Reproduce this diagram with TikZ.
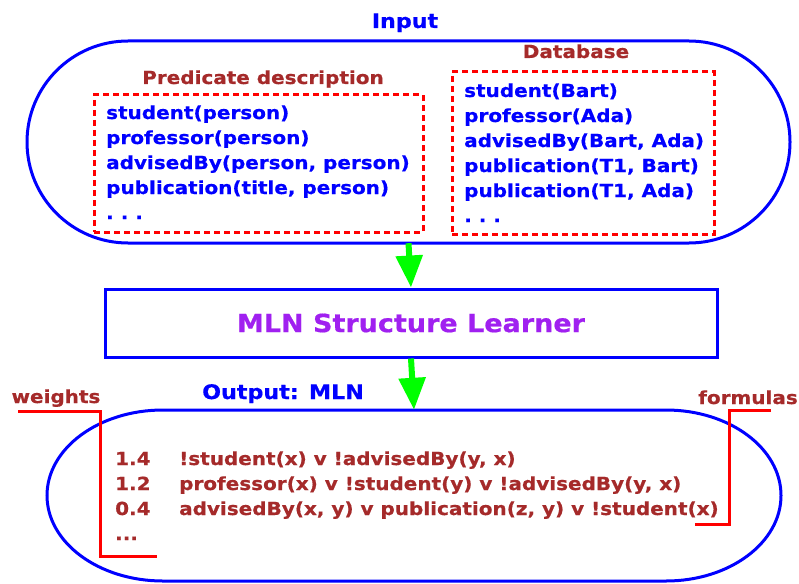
\documentclass[tikz,border=0pt]{standalone}
\usepackage{fontspec}
\newfontfamily\bodyfont{DejaVu Sans}[FakeStretch=1.11,FakeBold=0.6]
\newfontfamily\titlefont{DejaVu Sans}[FakeStretch=1.08,FakeBold=0.6]
\usetikzlibrary{arrows.meta}
\definecolor{mlnblue}{HTML}{0000FF}
\definecolor{mlnbrown}{HTML}{A52A2A}
\definecolor{mlnpurple}{HTML}{A020F0}
\definecolor{mlngreen}{HTML}{00FF00}
\definecolor{mlnred}{HTML}{FF0000}
\newcommand{\spdots}{.\kern7pt.\kern7pt.}
\begin{document}
\begin{tikzpicture}[x=1pt,y=-1pt,
  txt/.style={inner sep=0pt, font=\bodyfont\bfseries\fontsize{18}{25}\selectfont},
  item/.style={txt, text=mlnblue, anchor=base west},
  lbl/.style={txt, text=mlnbrown, anchor=base},
  ttl/.style={inner sep=0pt, font=\bodyfont\bfseries\fontsize{20}{24}\selectfont, text=mlnblue, anchor=base},
  dashbox/.style={draw=mlnred, line width=3pt, dash pattern=on 6pt off 4pt, inner sep=0pt},
  stadium/.style={draw=mlnblue, line width=3pt},
  flow/.style={draw=mlngreen, line width=6pt, -{Triangle[width=26pt,length=32pt]}},
  bracket/.style={draw=mlnred, line width=3pt},
]
\fill[white] (0,0) rectangle (799,583);
\useasboundingbox (0,0) rectangle (799,583);

% Input stadium
\node[minimum width=763pt, minimum height=202pt, inner sep=0pt] (input) at (408.5,142) {};
\draw[stadium] (128,41) -- (689,41)
  arc[start angle=-90, end angle=90, x radius=101, y radius=101]
  -- (128,243)
  arc[start angle=90, end angle=270, x radius=101, y radius=101] -- cycle;
\node[ttl] (inputlbl) at (405,28) {Input};

% Predicate description
\node[lbl] (predlbl) at (263,84) {Predicate description};
\node[dashbox, minimum width=329pt, minimum height=137pt] (pred) at (258.5,163.5) {};
\node[item] (p1) at (106,119) {student(person)};
\node[item] (p2) at (106,144) {professor(person)};
\node[item] (p3) at (106,169) {advisedBy(person, person)};
\node[item] (p4) at (106,194) {publication(title, person)};
\node[item] (p5) at (106,219) {\spdots};

% Database
\node[lbl] (dblbl) at (576,58) {Database};
\node[dashbox, minimum width=262pt, minimum height=162pt] (db) at (583,153) {};
\node[item] (d1) at (464,97) {student(Bart)};
\node[item] (d2) at (464,122) {professor(Ada)};
\node[item] (d3) at (464,147) {advisedBy(Bart, Ada)};
\node[item] (d4) at (464,172) {publication(T1, Bart)};
\node[item] (d5) at (464,197) {publication(T1, Ada)};
\node[item] (d6) at (464,222) {\spdots};

% Learner
\node[draw=mlnblue, line width=3pt, minimum width=612pt, minimum height=68pt, inner sep=0pt,
      text=mlnpurple, font=\titlefont\bfseries\fontsize{25}{30}\selectfont] (learner) at (411,323) {MLN Structure Learner};

% Output stadium
\node[minimum width=734pt, minimum height=171pt, inner sep=0pt] (output) at (414,495.5) {};
\draw[stadium] (163,410) -- (666,410)
  arc[start angle=-90, end angle=90, x radius=115, y radius=85.5]
  -- (163,581)
  arc[start angle=90, end angle=270, x radius=116, y radius=85.5] -- cycle;
\node[ttl] (outlbl) at (283,399) {Output: MLN};

% Arrows
\draw[flow] (input.south) -- (learner.north);
\draw[flow] (learner.south) -- (output.north);

% Formulas
\node[txt, text=mlnbrown, anchor=base west] (w1) at (115,465) {1.4};
\node[txt, text=mlnbrown, anchor=base west] (w2) at (115,490) {1.2};
\node[txt, text=mlnbrown, anchor=base west] (w3) at (115,515) {0.4};
\node[txt, text=mlnbrown, anchor=base west] (w4) at (115,540) {...};
\node[txt, text=mlnbrown, anchor=base west] (f1) at (179,465) {!student(x) v !advisedBy(y, x)};
\node[txt, text=mlnbrown, anchor=base west] (f2) at (179,490) {professor(x) v !student(y) v !advisedBy(y, x)};
\node[txt, text=mlnbrown, anchor=base west] (f3) at (179,515) {advisedBy(x, y) v publication(z, y) v !student(x)};

% Brackets
\node[lbl] (wlbl) at (56,403) {weights};
\node[lbl] (flbl) at (748,404) {formulas};
\coordinate (wa) at (18,411);
\coordinate (wb) at (100,411);
\coordinate (wc) at (100,556);
\coordinate (wd) at (157,556);
\draw[bracket] (wa) -- (wb) -- (wc) -- (wd);
\coordinate (fa) at (771,410);
\coordinate (fb) at (729,410);
\coordinate (fc) at (729,524);
\coordinate (fd) at (695,524);
\draw[bracket] (fa) -- (fb) -- (fc) -- (fd);
\end{tikzpicture}
\end{document}
